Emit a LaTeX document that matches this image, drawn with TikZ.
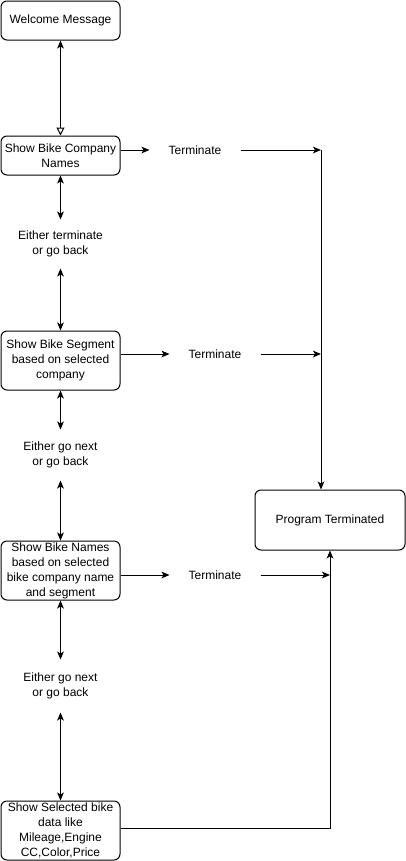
\documentclass[tikz,border=0pt]{standalone}
\usepackage{fontspec}
\setmainfont{Liberation Sans}
\usetikzlibrary{arrows.meta,positioning,calc}

\begin{document}
\begin{tikzpicture}[x=0.75pt,y=-0.75pt,
    line width=0.75pt,
    every node/.style={font=\fontsize{9}{11.25}\selectfont,align=center,inner sep=0pt},
    stepbox/.style={draw,rounded corners=4.5pt,minimum width=89.25pt},
    txt/.style={minimum width=67.5pt},
    >={Stealth[length=6pt,width=5pt,inset=1.5pt]}
    ]
    \useasboundingbox (0,0) rectangle (405,861);

    \node (wel) [stepbox,minimum height=29.25pt] at (60.5,20.5) {Welcome Message};
    \node (comp) [stepbox,minimum height=29.25pt] at (60.5,155.5) {Show Bike Company\\Names};
    \node (q1) [minimum height=36pt] at (60.5,244) {Either terminate\\or go back};
    \node (seg) [stepbox,minimum height=44.25pt] at (60.5,360.5) {Show Bike Segment\\based on selected\\company};
    \node (q2) [minimum height=37.5pt] at (60.5,455) {Either go next\\or go back};
    \node (bike) [stepbox,minimum height=44.25pt] at (60.5,570.5) {Show Bike Names\\based on selected\\bike company name\\and segment};
    \node (q3) [minimum height=39pt] at (60.5,686) {Either go next\\or go back};
    \node (sel) [stepbox,minimum height=44.25pt] at (60.5,830.5) {Show Selected bike\\data like\\Mileage,Engine\\CC,Color,Price};
    \node (t1) [txt] at (195,150) {Terminate};
    \node (t2) [txt] at (215,354) {Terminate};
    \node (t3) [txt] at (215,575) {Terminate};
    \node (end) [stepbox,minimum width=112.5pt,minimum height=45pt] at (330,520) {Program Terminated};
    \coordinate (j1) at (321,150);

    % the edges
    \draw[{Stealth[length=6pt,width=5pt,inset=1.5pt]}-{Triangle[open,length=6pt,width=6pt]}] (wel) -- (comp);
    \draw[<->] (comp) -- (q1);
    \draw[<->] (q1) -- (seg);
    \draw[<->] (seg) -- (q2);
    \draw[<->] (q2) -- (bike);
    \draw[<->] (bike) -- (q3);
    \draw[<->] (q3) -- (sel);
    \draw[->] (comp.east |- t1) -- (t1.west);
    \draw[->] (seg.east |- t2) -- (t2.west);
    \draw[->] (bike.east |- t3) -- (t3.west);
    \draw[->] (t1.east) -- (j1);
    \draw[->] (t2.east) -- (j1 |- t2);
    \draw[->] (t3.east) -- (end.south |- t3);
    \draw[->] (j1) -- (j1 |- end.north);
    \draw[->] (sel.east |- 0,828) -- (end.south |- 0,828) -- (end.south);
\end{tikzpicture}
\end{document}
